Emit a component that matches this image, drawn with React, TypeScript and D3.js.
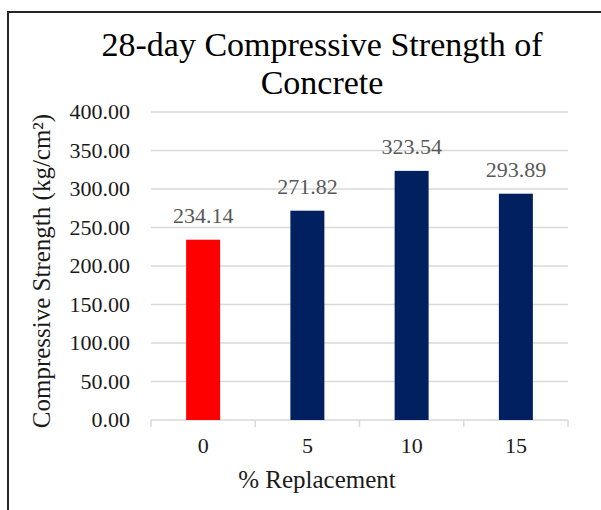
import React from "react";
import * as d3 from "d3";

const categories = ["0", "5", "10", "15"];
const strengths = [234.14, 271.82, 323.54, 293.89];
const barColors = ["#FF0000", "#002060", "#002060", "#002060"];
const yTicks = [0, 50, 100, 150, 200, 250, 300, 350, 400];
const titleLines = ["28-day Compressive Strength of", "Concrete"];
const xTitle = "% Replacement";
const yTitle = "Compressive Strength (kg/cm²)";

const W = 601;
const H = 510;
const plotLeft = 151;
const plotRight = 568;
const plotTop = 112;
const plotBottom = 420;
const FONT = "'Liberation Serif', 'Times New Roman', serif";

export default function App() {
  const y = d3.scaleLinear().domain([0, 400]).range([plotBottom, plotTop]);
  const x = d3
    .scaleBand<string>()
    .domain(categories)
    .range([plotLeft, plotRight])
    .paddingInner(0.674)
    .paddingOuter(0.337);
  const step = x.step();
  const boundaries = d3.range(categories.length + 1).map((i) => plotLeft + i * step);

  return (
    <svg
      width={W}
      height={H}
      style={{ position: "absolute", left: 0, top: 0, background: "#fff" }}
      fontFamily={FONT}
    >
      <rect x={0} y={0} width={W} height={H} fill="#fff" />
      <rect x={8} y={12} width={W + 20} height={H + 20} fill="none" stroke="#262626" strokeWidth={2} />

      {titleLines.map((t, i) => (
        <text key={t} x={322} y={56 + i * 38} textAnchor="middle" fontSize={34} fill="#000">
          {t}
        </text>
      ))}

      {yTicks.filter((v) => v > 0).map((v) => (
        <line key={"g" + v} x1={plotLeft} x2={plotRight} y1={y(v)} y2={y(v)} stroke="#d9d9d9" strokeWidth={1.5} />
      ))}
      <line x1={plotLeft} x2={plotRight} y1={plotBottom} y2={plotBottom} stroke="#d9d9d9" strokeWidth={1.5} />
      {boundaries.map((bx, i) => (
        <line key={"t" + i} x1={bx} x2={bx} y1={plotBottom} y2={plotBottom + 7} stroke="#d9d9d9" strokeWidth={1.5} />
      ))}

      {yTicks.map((v) => (
        <text key={"y" + v} x={130} y={y(v) + 7} textAnchor="end" fontSize={22} fill="#1a1a1a">
          {v.toFixed(2)}
        </text>
      ))}

      {categories.map((c, i) => (
        <g key={c}>
          <rect
            x={x(c)}
            y={y(strengths[i])}
            width={x.bandwidth()}
            height={plotBottom - y(strengths[i])}
            fill={barColors[i]}
          />
          <text
            x={(x(c) as number) + x.bandwidth() / 2}
            y={y(strengths[i]) - 17}
            textAnchor="middle"
            fontSize={22}
            fill="#595959"
          >
            {strengths[i].toFixed(2)}
          </text>
          <text
            x={(x(c) as number) + x.bandwidth() / 2}
            y={453}
            textAnchor="middle"
            fontSize={22}
            fill="#1a1a1a"
          >
            {c}
          </text>
        </g>
      ))}

      <text x={317} y={488} textAnchor="middle" fontSize={25} fill="#1a1a1a">
        {xTitle}
      </text>
      <text
        transform={`translate(50, 271) rotate(-90)`}
        textAnchor="middle"
        fontSize={25}
        fill="#1a1a1a"
      >
        {yTitle}
      </text>
    </svg>
  );
}
